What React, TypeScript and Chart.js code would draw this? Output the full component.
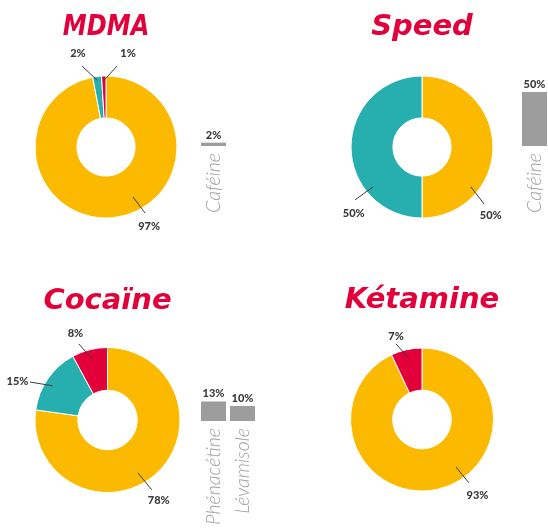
import React, { useEffect, useRef } from "react";
import { Chart, registerables } from "chart.js";

Chart.register(...registerables);

// ---------- data ----------
const mdmaTitle = "MDMA";
const mdmaSegments = ["MDMA", "Produit de coupe", "Autre"];
const mdmaValues = [97, 2, 1];

const speedTitle = "Speed";
const speedSegments = ["Amphétamine", "Produit de coupe"];
const speedValues = [50, 50];

const cocaineTitle = "Cocaïne";
const cocaineSegments = ["Cocaïne", "Produit de coupe", "Autre"];
const cocaineValues = [78, 15, 8];

const ketamineTitle = "Kétamine";
const ketamineSegments = ["Kétamine", "Autre"];
const ketamineValues = [93, 7];

const mdmaCutLabels = ["Caféine"];
const mdmaCutValues = [2];
const speedCutLabels = ["Caféine"];
const speedCutValues = [50];
const cocaineCutLabels = ["Phénacétine", "Lévamisole"];
const cocaineCutValues = [13, 10];

// ---------- styles ----------
const YELLOW = "#FBBA00";
const TEAL = "#27AFAF";
const RED = "#E3003A";
const GREY = "#9D9D9D";
const LABEL = "#3B3B3B";

type Leader = { s: [number, number]; e: [number, number]; t: [number, number] };

const mdmaLeaders: Leader[] = [
  { s: [151.6, 0.8], e: [149.4, 1.08], t: [151.4, 1.27] },
  { s: [-7.6, 0.95], e: [-16.5, 1.19], t: [-16.8, 1.37] },
  { s: [-1.7, 0.94], e: [7.7, 1.15], t: [13.3, 1.35] },
];
const speedLeaders: Leader[] = [
  { s: [129.2, 0.89], e: [132.6, 1.19], t: [135, 1.37] },
  { s: [230.8, 0.89], e: [231.7, 1.2], t: [225.9, 1.34] },
];
const cocaineLeaders: Leader[] = [
  { s: [150.1, 0.84], e: [147.6, 1.14], t: [147.6, 1.32] },
  { s: [-58, 0.89], e: [-63.9, 1.19], t: [-66.8, 1.35] },
  { s: [-14.3, 0.87], e: [-20.6, 1.12], t: [-20.4, 1.27] },
];
const ketamineLeaders: Leader[] = [
  { s: [144.4, 0.82], e: [143.5, 1.1], t: [143.7, 1.31] },
  { s: [-12.1, 0.87], e: [-19.0, 1.12], t: [-17.3, 1.22] },
];

const donutDecor = {
  id: "donutDecor",
  afterDraw(chart: any, _args: any, opts: any) {
    const arc = chart.getDatasetMeta(0).data[0] as any;
    if (!arc) return;
    const cx = arc.x;
    const cy = arc.y;
    const R = arc.outerRadius;
    const ctx = chart.ctx as CanvasRenderingContext2D;
    ctx.save();
    ctx.translate(cx, cy - opts.titleGap);
    ctx.scale(opts.titleScaleX, 1);
    ctx.font = "italic bold 29px 'DejaVu Sans'";
    ctx.fillStyle = RED;
    ctx.textAlign = "center";
    ctx.textBaseline = "alphabetic";
    ctx.fillText(opts.title, 0, 0);
    ctx.restore();

    ctx.save();
    const vals = chart.data.datasets[0].data as number[];
    const pt = (a: number, f: number) => {
      const r = (a * Math.PI) / 180;
      return [cx + Math.sin(r) * f * R, cy - Math.cos(r) * f * R];
    };
    ctx.strokeStyle = LABEL;
    ctx.lineWidth = 1;
    ctx.font = "900 11px Lato";
    ctx.fillStyle = LABEL;
    ctx.textAlign = "center";
    ctx.textBaseline = "middle";
    (opts.leaders as Leader[]).forEach((L, i) => {
      const [x1, y1] = pt(L.s[0], L.s[1]);
      const [x2, y2] = pt(L.e[0], L.e[1]);
      const [x3, y3] = pt(L.t[0], L.t[1]);
      ctx.beginPath();
      ctx.moveTo(x1, y1);
      ctx.lineTo(x2, y2);
      ctx.stroke();
      ctx.fillText(`${vals[i]}%`, x3, y3);
    });
    ctx.restore();
  },
};

const barValueLabels = {
  id: "barValueLabels",
  afterDatasetsDraw(chart: any) {
    const ctx = chart.ctx as CanvasRenderingContext2D;
    const vals = chart.data.datasets[0].data as number[];
    ctx.save();
    ctx.font = "900 11px Lato";
    ctx.fillStyle = LABEL;
    ctx.textAlign = "center";
    ctx.textBaseline = "alphabetic";
    chart.getDatasetMeta(0).data.forEach((bar: any, i: number) => {
      ctx.fillText(`${vals[i]}%`, bar.x, bar.y - 4.5);
    });
    ctx.restore();
  },
};

type Box = { x: number; y: number; w: number; h: number };

function donutConfig(
  title: string,
  segments: string[],
  values: number[],
  colors: string[],
  leaders: Leader[],
  box: Box,
  cx: number,
  cy: number,
  R: number,
  titleGap: number,
  titleScaleX: number
): any {
  const half = R + 0.5;
  return {
    type: "doughnut",
    data: {
      labels: segments,
      datasets: [
        {
          data: values,
          backgroundColor: colors,
          borderColor: "#ffffff",
          borderWidth: 1,
        },
      ],
    },
    options: {
      responsive: false,
      animation: false,
      events: [],
      cutout: "41%",
      layout: {
        padding: {
          left: cx - half - box.x,
          right: box.x + box.w - (cx + half),
          top: cy - half - box.y,
          bottom: box.y + box.h - (cy + half),
        },
      },
      plugins: {
        legend: { display: false },
        tooltip: { enabled: false },
        donutDecor: { title, leaders, titleGap, titleScaleX },
      },
    },
    plugins: [donutDecor],
  };
}

function barConfig(
  labels: string[],
  values: number[],
  box: Box,
  areaLeft: number,
  areaRight: number,
  areaTop: number,
  baseline: number,
  yMax: number,
  barPct: number
): any {
  const axisH = box.y + box.h - baseline;
  return {
    type: "bar",
    data: {
      labels,
      datasets: [
        {
          data: values,
          backgroundColor: GREY,
          borderWidth: 0,
          barPercentage: barPct,
          categoryPercentage: 1,
        },
      ],
    },
    options: {
      responsive: false,
      animation: false,
      events: [],
      layout: {
        padding: {
          left: areaLeft - box.x,
          right: box.x + box.w - areaRight,
          top: areaTop - box.y,
          bottom: 0,
        },
      },
      plugins: { legend: { display: false }, tooltip: { enabled: false } },
      scales: {
        x: {
          grid: { display: false, drawTicks: false },
          border: { display: false },
          ticks: {
            autoSkip: false,
            minRotation: 90,
            maxRotation: 90,
            padding: 7,
            color: "#A0A0A0",
            font: { family: "Lato", style: "italic", weight: 300, size: 19.5 },
          },
          afterFit: (s: any) => {
            s.height = axisH;
            s.paddingLeft = 0;
            s.paddingRight = 0;
          },
        },
        y: { display: false, min: 0, max: yMax },
      },
    },
    plugins: [barValueLabels],
  };
}

function ChartCanvas({ box, make }: { box: Box; make: () => any }) {
  const ref = useRef<HTMLCanvasElement | null>(null);
  useEffect(() => {
    if (!ref.current) return;
    const chart = new Chart(ref.current, make());
    return () => chart.destroy();
  }, []);
  return (
    <canvas
      ref={ref}
      width={box.w}
      height={box.h}
      style={{ position: "absolute", left: box.x, top: box.y, width: box.w, height: box.h }}
    />
  );
}

const mdmaBox = { x: 0, y: 0, w: 195, h: 250 };
const speedBox = { x: 290, y: 0, w: 225, h: 250 };
const cocaineBox = { x: 0, y: 262, w: 195, h: 267 };
const ketamineBox = { x: 290, y: 262, w: 258, h: 267 };
const mdmaBarBox = { x: 192, y: 100, w: 44, h: 130 };
const speedBarBox = { x: 512, y: 62, w: 36, h: 164 };
const cocaineBarBox = { x: 190, y: 370, w: 76, h: 159 };

export default function App() {
  return (
    <div
      style={{
        position: "absolute",
        left: 0,
        top: 0,
        width: 548,
        height: 529,
        overflow: "hidden",
        background: "#ffffff",
      }}
    >
      <ChartCanvas
        box={mdmaBox}
        make={() =>
          donutConfig(mdmaTitle, mdmaSegments, mdmaValues, [YELLOW, TEAL, RED], mdmaLeaders, mdmaBox, 106, 147, 71, 112, 0.83)
        }
      />
      <ChartCanvas
        box={speedBox}
        make={() =>
          donutConfig(speedTitle, speedSegments, speedValues, [YELLOW, TEAL], speedLeaders, speedBox, 422, 147, 71, 112, 1)
        }
      />
      <ChartCanvas
        box={cocaineBox}
        make={() =>
          donutConfig(
            cocaineTitle,
            cocaineSegments,
            cocaineValues,
            [YELLOW, TEAL, RED],
            cocaineLeaders,
            cocaineBox,
            107.5,
            420,
            72.5,
            111,
            1
          )
        }
      />
      <ChartCanvas
        box={ketamineBox}
        make={() =>
          donutConfig(
            ketamineTitle,
            ketamineSegments,
            ketamineValues,
            [YELLOW, RED],
            ketamineLeaders,
            ketamineBox,
            422,
            419.5,
            71.5,
            112,
            1
          )
        }
      />
      <ChartCanvas
        box={mdmaBarBox}
        make={() => barConfig(mdmaCutLabels, mdmaCutValues, mdmaBarBox, 201, 226, 116, 146, 20, 1)}
      />
      <ChartCanvas
        box={speedBarBox}
        make={() => barConfig(speedCutLabels, speedCutValues, speedBarBox, 522, 547, 92, 146, 50, 1)}
      />
      <ChartCanvas
        box={cocaineBarBox}
        make={() => barConfig(cocaineCutLabels, cocaineCutValues, cocaineBarBox, 199, 257, 391, 421, 20, 25 / 29)}
      />
    </div>
  );
}
